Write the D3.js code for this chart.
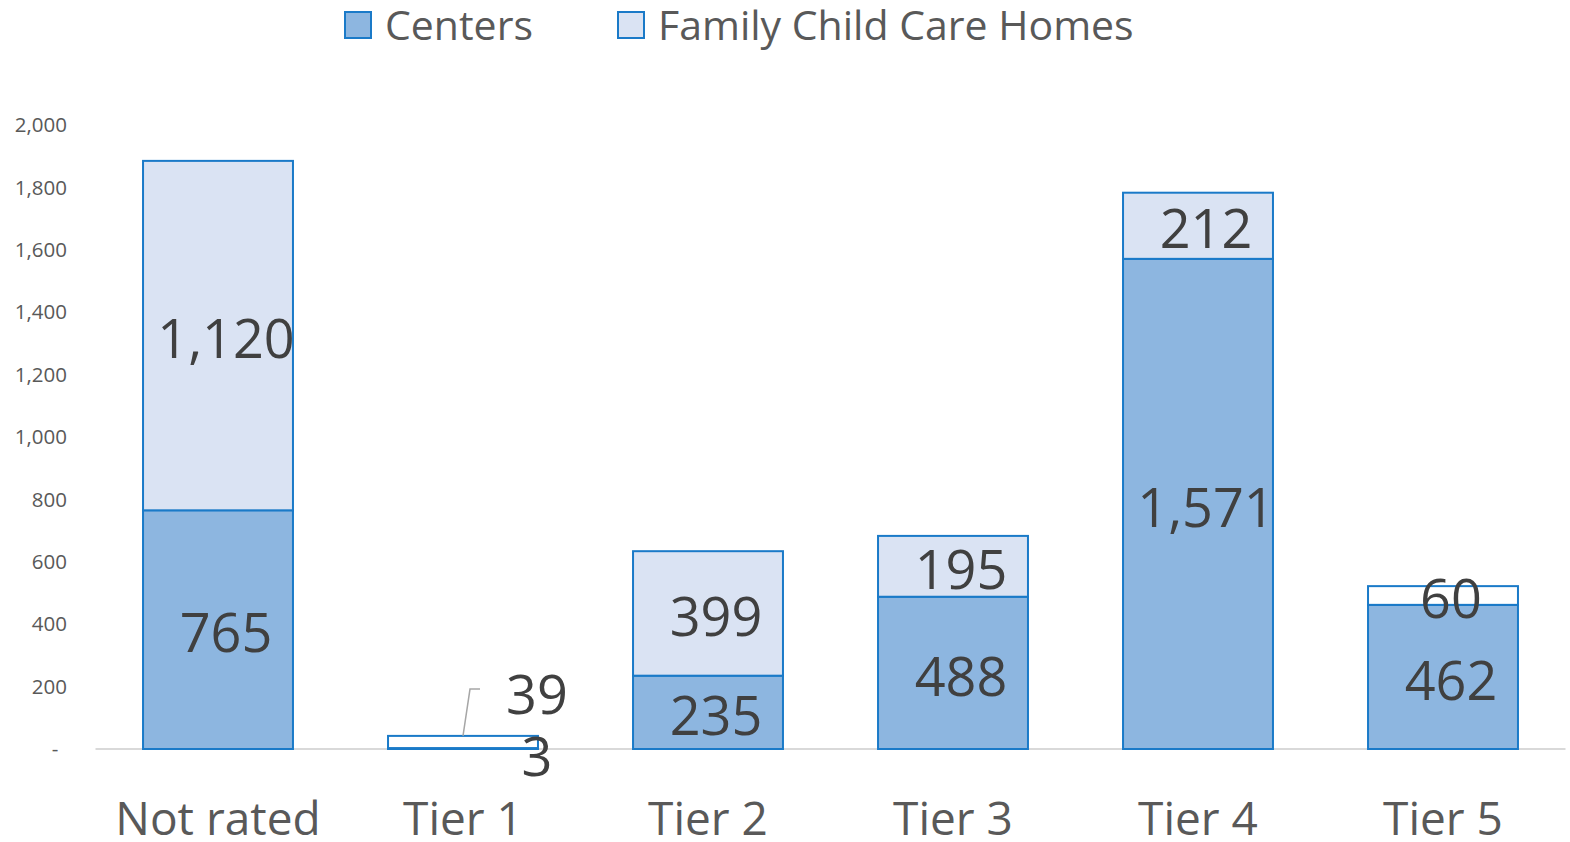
<!DOCTYPE html>
<html>
<head>
<meta charset="utf-8">
<script src="https://cdn.jsdelivr.net/npm/d3@7"></script>
<style>
  body { margin: 0; background: #fff; }
  text { font-family: "Open Sans", "Noto Sans", sans-serif; }
</style>
</head>
<body>
<script>
var categories = ["Not rated", "Tier 1", "Tier 2", "Tier 3", "Tier 4", "Tier 5"];
var centers = [765, 3, 235, 488, 1571, 462];
var homes = [1120, 39, 399, 195, 212, 60];
var seriesNames = ["Centers", "Family Child Care Homes"];
var yTicks = [0, 200, 400, 600, 800, 1000, 1200, 1400, 1600, 1800, 2000];
// points Excel drew with a white fill on the homes series
var whiteHomes = ["Tier 1", "Tier 5"];

var width = 1570,
    height = 842;
var colCenters = "#8db6e0",
    colHomes = "#dae3f3",
    colStroke = "#1a7ac8";

var svg = d3.select("body").append("svg")
    .attr("width", width)
    .attr("height", height);

var x = d3.scaleBand()
    .domain(categories)
    .range([95.5, 1565.5])
    .paddingInner(0.388)
    .paddingOuter(0.194);

var y = d3.scaleLinear()
    .domain([0, 2000])
    .range([749, 125]);

var fmt = d3.format(",");

var rows = categories.map(function (c, i) {
    return { cat: c, Centers: centers[i], Homes: homes[i] };
});
var stack = d3.stack().keys(["Centers", "Homes"])(rows);

// y axis labels
svg.append("g").selectAll("text")
    .data(yTicks)
    .enter().append("text")
    .attr("x", function (d) { return d === 0 ? 55 : 67; })
    .attr("y", function (d) { return y(d); })
    .attr("dy", "0.35em")
    .attr("text-anchor", function (d) { return d === 0 ? "middle" : "end"; })
    .style("font-size", "20.5px")
    .style("fill", "#595959")
    .text(function (d) { return d === 0 ? "-" : fmt(d); });

// baseline
svg.append("line")
    .attr("x1", 95.5).attr("x2", 1565.5)
    .attr("y1", y(0)).attr("y2", y(0))
    .style("stroke", "#d9d9d9")
    .style("stroke-width", 2);

// bars
var layer = svg.selectAll(".layer")
    .data(stack)
    .enter().append("g")
    .attr("class", "layer");

layer.selectAll("rect")
    .data(function (s) { return s.map(function (d) { d.key = s.key; return d; }); })
    .enter().append("rect")
    .attr("x", function (d) { return x(d.data.cat); })
    .attr("width", x.bandwidth())
    .attr("y", function (d) { return y(d[1]); })
    .attr("height", function (d) { return y(d[0]) - y(d[1]); })
    .style("fill", function (d) {
        if (d.key === "Centers") return d.data.cat === "Tier 1" ? "#fff" : colCenters;
        return whiteHomes.indexOf(d.data.cat) >= 0 ? "#fff" : colHomes;
    })
    .style("stroke", colStroke)
    .style("stroke-width", 2);

// data labels (Tier 1 is too thin, its labels sit outside with a leader line)
var labels = [];
stack.forEach(function (s) {
    s.forEach(function (d) {
        var v = d[1] - d[0];
        var lx = x(d.data.cat) + x.bandwidth() / 2 + 8;
        var ly = y((d[0] + d[1]) / 2);
        if (d.data.cat === "Tier 1") {
            lx = x(d.data.cat) + x.bandwidth() - 1;
            ly = s.key === "Homes" ? y(186) : y(-13);
        }
        labels.push({ v: v, x: lx, y: ly });
    });
});

svg.append("g").selectAll("text")
    .data(labels)
    .enter().append("text")
    .attr("x", function (d) { return d.x; })
    .attr("y", function (d) { return d.y; })
    .attr("dy", "0.42em")
    .attr("text-anchor", "middle")
    .style("font-size", "54px")
    .style("fill", "#404040")
    .text(function (d) { return fmt(d.v); });

var t1 = x("Tier 1") + x.bandwidth() / 2;
svg.append("path")
    .attr("d", "M" + t1 + "," + y(39 + 3) + "L" + (t1 + 7) + "," + y(192) + "L" + (t1 + 17) + "," + y(192))
    .style("fill", "none")
    .style("stroke", "#a6a6a6")
    .style("stroke-width", 1.5);

// category labels
svg.append("g").selectAll("text")
    .data(categories)
    .enter().append("text")
    .attr("x", function (d) { return x(d) + x.bandwidth() / 2; })
    .attr("y", 835)
    .attr("text-anchor", "middle")
    .style("font-size", "46px")
    .style("fill", "#595959")
    .text(function (d) { return d; });

// legend
var legendX = [345, 618];
var legend = svg.append("g").selectAll("g")
    .data(seriesNames)
    .enter().append("g")
    .attr("transform", function (d, i) { return "translate(" + legendX[i] + ",12)"; });

legend.append("rect")
    .attr("width", 26).attr("height", 26)
    .style("fill", function (d, i) { return i === 0 ? colCenters : colHomes; })
    .style("stroke", colStroke)
    .style("stroke-width", 2);

legend.append("text")
    .attr("x", 40)
    .attr("y", 13)
    .attr("dy", "0.36em")
    .style("font-size", "41px")
    .style("fill", "#595959")
    .text(function (d) { return d; });
</script>
</body>
</html>
